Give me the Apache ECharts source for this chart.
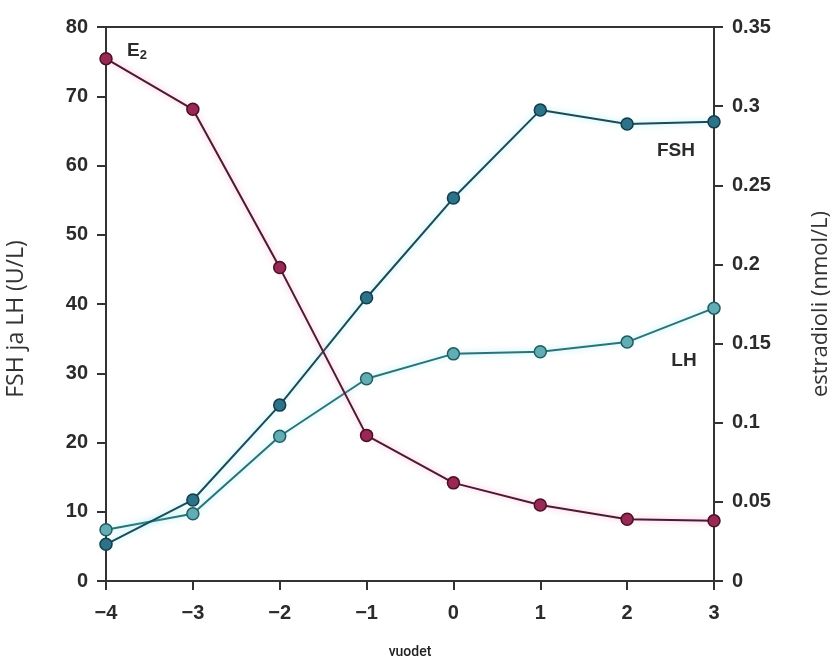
<!DOCTYPE html>
<html>
<head>
<meta charset="utf-8">
<script src="https://cdn.jsdelivr.net/npm/echarts@6/dist/echarts.min.js"></script>
<style>
  html, body { margin: 0; padding: 0; background: #fff; }
  #chart { width: 834px; height: 657px; }
</style>
</head>
<body>
<div id="chart"></div>
<script>
// vuodet (years relative to menopause)
const years = [-4, -3, -2, -1, 0, 1, 2, 3];
// FSH ja LH (U/L), left axis
const fshValues = [5.3, 11.7, 25.4, 40.9, 55.3, 68.0, 66.0, 66.3];
const lhValues = [7.4, 9.7, 20.9, 29.2, 32.8, 33.1, 34.5, 39.4];
// estradioli (nmol/L), right axis
const e2Values = [0.330, 0.298, 0.198, 0.092, 0.062, 0.048, 0.039, 0.038];

const leftTicks = { min: 0, max: 80, interval: 10 };
const rightTicks = { min: 0, max: 0.35, interval: 0.05 };

const FONT = '"Liberation Sans", Arial, sans-serif';
const NAME_FONT = '"Open Sans", sans-serif';
const AXIS_COLOR = '#333';
const TEXT_COLOR = '#2b2b2b';

function pairs(values) {
    return years.map((x, i) => [x, values[i]]);
}

// put a text label next to one point of a series
function withLabel(values, index, text, offset) {
    const data = pairs(values);
    data[index] = {
        value: data[index],
        label: {
            show: true,
            position: 'inside',
            offset: offset,
            formatter: text,
            color: TEXT_COLOR,
            fontSize: 19,
            fontWeight: 'bold',
            fontFamily: FONT,
            rich: {
                e: { fontSize: 19, fontWeight: 'bold', fontFamily: FONT, color: TEXT_COLOR },
                s: { fontSize: 13, fontWeight: 'bold', fontFamily: FONT, color: TEXT_COLOR, padding: [10, 0, 0, 0] }
            }
        }
    };
    return data;
}

function lineSeries(name, data, yAxisIndex, fill, border, line, glow) {
    return {
        name: name,
        type: 'line',
        yAxisIndex: yAxisIndex,
        data: data,
        symbol: 'circle',
        symbolSize: 12,
        itemStyle: { color: fill, borderColor: border, borderWidth: 1.5 },
        lineStyle: { color: line, width: 2, shadowColor: glow, shadowBlur: 6 },
        emphasis: { disabled: true },
        animation: false
    };
}

const chart = echarts.init(document.getElementById('chart'));

const axisLine = { show: true, onZero: false, lineStyle: { color: AXIS_COLOR, width: 2 } };
const axisTick = { show: true, length: 9, lineStyle: { color: AXIS_COLOR, width: 2 } };
const axisLabel = { color: TEXT_COLOR, fontSize: 20, fontWeight: 'bold', fontFamily: FONT };

const option = {
    backgroundColor: '#fff',
    grid: {
        left: 106, right: 120, top: 27, bottom: 76,
        containLabel: false,
        outerBoundsMode: 'none',
        show: true, borderColor: AXIS_COLOR, borderWidth: 2
    },
    xAxis: {
        type: 'value',
        min: -4, max: 3, interval: 1,
        name: 'vuodet',
        nameLocation: 'middle',
        nameGap: 64,
        nameTextStyle: { color: '#222', fontSize: 14, fontWeight: 500, fontFamily: 'Roboto, sans-serif' },
        axisLine: axisLine,
        axisTick: axisTick,
        splitLine: { show: false },
        axisLabel: Object.assign({}, axisLabel, {
            margin: 22,
            formatter: v => v < 0 ? '\u2212' + Math.abs(v) : String(v)
        })
    },
    yAxis: [{
        type: 'value',
        position: 'left',
        min: leftTicks.min, max: leftTicks.max, interval: leftTicks.interval,
        name: 'FSH ja LH (U/L)',
        nameLocation: 'middle',
        nameGap: 78,
        nameTextStyle: { color: '#333', fontSize: 23, fontFamily: NAME_FONT, padding: [0, 30, 0, 0] },
        axisLine: axisLine,
        axisTick: axisTick,
        splitLine: { show: false },
        axisLabel: Object.assign({}, axisLabel, { margin: 18 })
    }, {
        type: 'value',
        position: 'right',
        min: rightTicks.min, max: rightTicks.max, interval: rightTicks.interval,
        name: 'estradioli (nmol/L)',
        nameLocation: 'middle',
        nameGap: 96,
        nameTextStyle: { color: '#333', fontSize: 22, fontFamily: NAME_FONT },
        axisLine: axisLine,
        axisTick: axisTick,
        splitLine: { show: false },
        axisLabel: Object.assign({}, axisLabel, { margin: 18 })
    }],
    series: [
        lineSeries('LH', withLabel(lhValues, 7, 'LH', [-30, 53]), 0,
            '#62adb3', '#1f5c63', '#2a7478', 'rgba(120,225,235,0.7)'),
        lineSeries('FSH', withLabel(fshValues, 7, 'FSH', [-38, 29]), 0,
            '#2c7289', '#123d4a', '#1a4b57', 'rgba(120,225,235,0.7)'),
        lineSeries('E2', withLabel(e2Values, 0, '{e|E}{s|2}', [31, -8]), 1,
            '#9a2855', '#4a1025', '#4e1a32', 'rgba(240,140,185,0.7)')
    ]
};

chart.setOption(option);
window.addEventListener('resize', () => chart.resize());
</script>
</body>
</html>
